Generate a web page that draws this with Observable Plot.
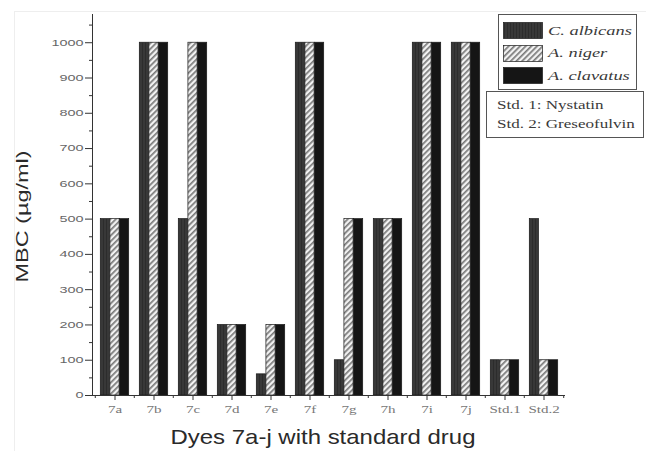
<!DOCTYPE html>
<html><head><meta charset="utf-8">
<script src="https://cdn.jsdelivr.net/npm/d3@7"></script>
<script src="https://cdn.jsdelivr.net/npm/@observablehq/plot@0.6"></script>
<style>
body{margin:0;background:#fff;}
#wrap{position:relative;width:646px;height:451px;overflow:hidden;}
#border{position:absolute;left:14px;top:11px;right:0;bottom:0;border-left:1px solid #eee;border-top:1px solid #eee;pointer-events:none;}
.lg{position:absolute;background:#fff;border:1px solid #555;font-family:"Liberation Serif","Times New Roman",serif;color:#3a3a3a;}
.row{position:absolute;left:4px;height:17px;display:flex;align-items:center;font-style:italic;font-size:11.5px;white-space:nowrap;}
.row svg{margin-right:5px;flex:none;}
.row span{display:inline-block;transform:scaleX(1.6);transform-origin:left center;}
.std{position:absolute;left:10px;font-size:12px;white-space:nowrap;transform:scaleX(1.42);transform-origin:left center;}
</style></head><body><div id="wrap"><div id="border"></div></div>
<script>
const categories = ["7a","7b","7c","7d","7e","7f","7g","7h","7i","7j","Std.1","Std.2"];
const seriesNames = ["C. albicans","A. niger","A. clavatus"];
const cAlbicans = [500,1000,500,200,60,1000,100,500,1000,1000,100,500];
const aNiger    = [500,1000,1000,200,200,1000,500,500,1000,1000,100,100];
const aClavatus = [500,1000,1000,200,200,1000,500,500,1000,1000,100,100];
const yMajorTicks = d3.range(0, 1001, 100);
const yMinorTicks = d3.range(50, 1051, 100);
const stdNotes = ["Std. 1: Nystatin","Std. 2: Greseofulvin"];
const yTitle = "MBC (µg/ml)";
const xTitle = "Dyes 7a-j with standard drug";

const fills = ["url(#patAlb)","url(#patNig)","#151515"];
const seriesValues = [cAlbicans, aNiger, aClavatus];
const tables = seriesValues.map((vals, s) => categories.map((c, i) => ({category: c, value: vals[i], series: seriesNames[s]})));

const W = 646, H = 451, mL = 92, mR = 81, mT = 14, mB = 56;
const bw = (W - mL - mR) / categories.length;
const pad = 5.3, barW = (bw - 2 * pad) / 3;

const barMarks = tables.map((t, s) => Plot.barY(t, {
  x: "category", y: "value", fill: fills[s], stroke: "#1a1a1a", strokeWidth: 0.7,
  insetLeft: pad + s * barW, insetRight: bw - pad - (s + 1) * barW
}));

const chart = Plot.plot({
  width: W, height: H,
  marginLeft: mL, marginRight: mR, marginTop: mT, marginBottom: mB,
  x: {domain: categories, padding: 0, axis: null},
  y: {domain: [0, 1080], axis: null},
  style: {background: "transparent"},
  marks: [
    ...barMarks,
    Plot.ruleY([0], {stroke: "#333", strokeWidth: 1}),
    Plot.frame({anchor: "left", stroke: "#333", strokeWidth: 1}),
    Plot.axisY(yMajorTicks, {tickSize: 7, tickPadding: 2, tickFormat: "d", fontSize: 9, fontFamily: "Liberation Sans, Arial, sans-serif", fill: "#666", stroke: "#333", label: null}),
    Plot.axisY(yMinorTicks, {tickSize: 3, tickFormat: () => "", stroke: "#333", label: null}),
    Plot.axisX(categories, {tickSize: 5, tickPadding: 5, fontSize: 10, fontFamily: "Liberation Serif, Times New Roman, serif", fill: "#777", stroke: "#333", label: null}),
    Plot.axisX(categories, {tickSize: 3, tickFormat: () => "", dx: -bw / 2, stroke: "#333", label: null}),
    Plot.axisX(categories.slice(-1), {tickSize: 3, tickFormat: () => "", dx: bw / 2, stroke: "#333", label: null}),
    Plot.text([yTitle], {text: d => d, frameAnchor: "left", textAnchor: "middle", lineAnchor: "middle", rotate: -90, dx: -70, dy: 11.5, fontSize: 16, fontFamily: "Liberation Sans, Arial, sans-serif", fill: "#2a2a2a"}),
    Plot.text([xTitle], {text: d => d, frameAnchor: "bottom", textAnchor: "middle", lineAnchor: "middle", dy: 42, dx: -6, fontSize: 21, fontFamily: "Liberation Sans, Arial, sans-serif", fill: "#2a2a2a"})
  ]
});

const defs = `
<pattern id="patAlb" patternUnits="userSpaceOnUse" width="3" height="3">
  <rect width="3" height="3" fill="#383838"/><rect x="1" width="1" height="3" fill="#2c2c2c"/>
</pattern>
<pattern id="patNig" patternUnits="userSpaceOnUse" width="4" height="4" patternTransform="rotate(45)">
  <rect width="4" height="4" fill="#f2f2f2"/><rect width="1.7" height="4" fill="#7a7a7a"/>
</pattern>`;
d3.select(chart).insert("defs", ":first-child").html(defs);

const wrap = document.getElementById("wrap");
chart.style.position = "absolute"; chart.style.left = "0"; chart.style.top = "0";
wrap.appendChild(chart);

// the reference text is horizontally stretched; reproduce with textLength
d3.select(chart).selectAll("text").each(function() {
  const t = this.textContent;
  if (!t) return;
  let factor;
  if (t === yTitle) { this.setAttribute("textLength", 132); this.setAttribute("lengthAdjust", "spacingAndGlyphs"); return; }
  if (t === xTitle) { this.setAttribute("textLength", 305); this.setAttribute("lengthAdjust", "spacingAndGlyphs"); return; }
  if (categories.includes(t)) factor = 1.5;
  else if (/^\d+$/.test(t)) factor = 1.6;
  else return;
  const len = this.getComputedTextLength();
  this.setAttribute("textLength", len * factor);
  this.setAttribute("lengthAdjust", "spacingAndGlyphs");
});

// legend
const lg1 = document.createElement("div");
lg1.className = "lg";
Object.assign(lg1.style, {left: "498px", top: "14px", width: "137px", height: "74px"});
seriesNames.forEach((n, i) => {
  const r = document.createElement("div");
  r.className = "row";
  r.style.top = (7 + i * 22.5) + "px";
  r.innerHTML = `<svg width="40" height="17"><rect x="0.5" y="0.5" width="39" height="16" fill="${fills[i]}" stroke="#1a1a1a" stroke-width="0.7"/></svg><span></span>`;
  r.querySelector("span").textContent = n;
  lg1.appendChild(r);
});
wrap.appendChild(lg1);

const lg2 = document.createElement("div");
lg2.className = "lg";
Object.assign(lg2.style, {left: "486px", top: "91px", width: "156px", height: "45px"});
stdNotes.forEach((t, i) => {
  const s = document.createElement("div");
  s.className = "std";
  s.style.top = (6 + i * 19) + "px";
  s.textContent = t;
  lg2.appendChild(s);
});
wrap.appendChild(lg2);
</script>
</body></html>
